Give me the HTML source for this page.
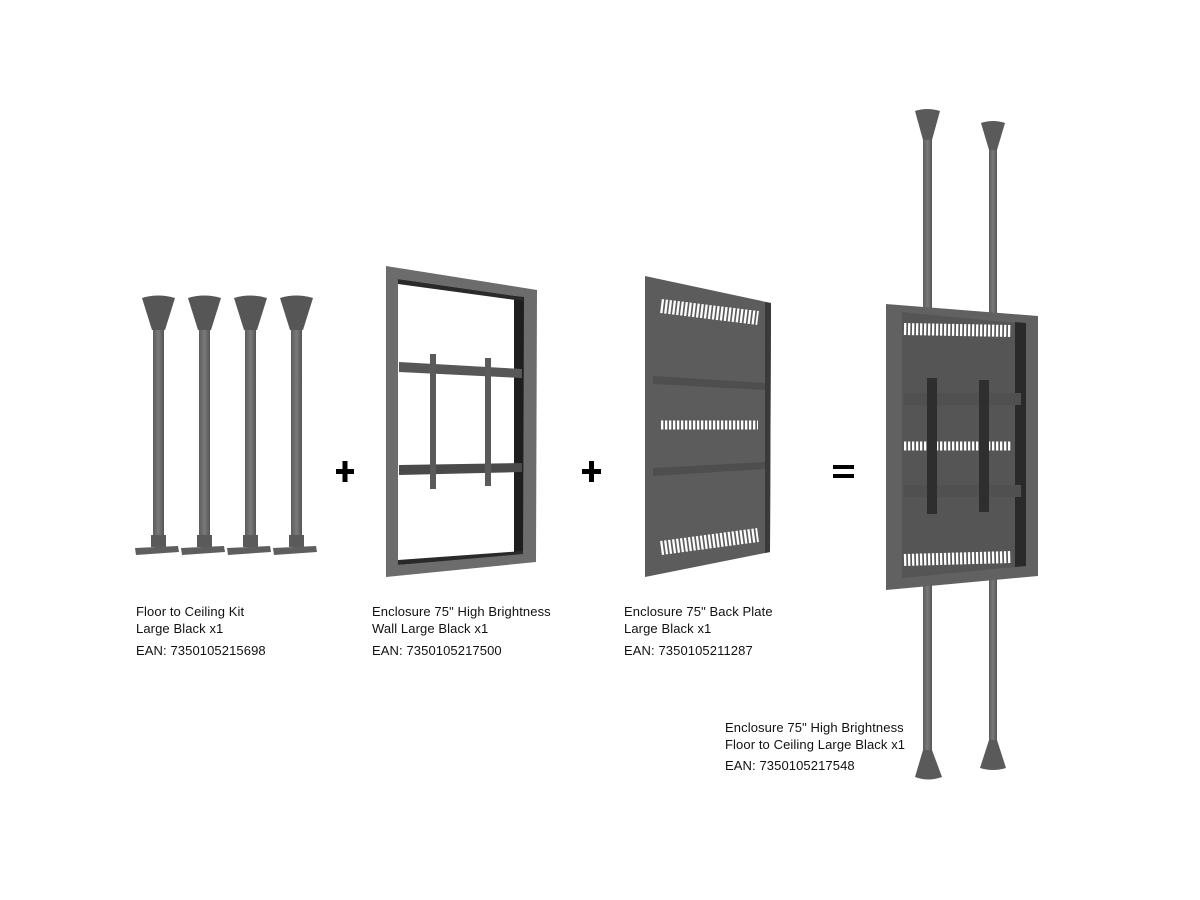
<!DOCTYPE html>
<html><head><meta charset="utf-8"><style>
html,body{margin:0;padding:0;background:#fff;width:1200px;height:900px;overflow:hidden}
svg{position:absolute;left:0;top:0}
.t{position:absolute;font-family:"Liberation Sans",sans-serif;font-size:13px;color:#111;line-height:17px;letter-spacing:0.1px}
</style></head><body>
<svg width="1200" height="900" viewBox="0 0 1200 900">
<defs>
<linearGradient id="pg" x1="0" x2="1"><stop offset="0" stop-color="#5c5c5c"/><stop offset="0.5" stop-color="#7a7a7a"/><stop offset="1" stop-color="#555"/></linearGradient>
</defs>
<!-- four poles -->
<g fill="url(#pg)">
<g id="pole">
<path d="M142,298 Q158,293 175,298 L165,330 L152,330 Z" fill="#565656"/>
<rect x="153" y="330" width="11" height="215"/>
<rect x="151" y="535" width="15" height="12" fill="#5a5a5a"/>
<path d="M135,548 L178,546 L179,552 L136,555 Z" fill="#5e5e5e"/>
</g>
<use href="#pole" x="46"/>
<use href="#pole" x="92"/>
<use href="#pole" x="138"/>
</g>
<!-- plus signs -->
<path d="M336,469h18v5h-18z M342.5,461h5v21h-5z" fill="#000"/>
<path d="M582,469h19v5h-19z M589,461h5v21h-5z" fill="#000"/>
<path d="M833,465h21v4h-21z M833,474h21v4h-21z" fill="#000"/>
<!-- wall frame -->
<path d="M386,266 L537,290 L536,562 L386,577 Z" fill="#6c6c6c"/>
<path d="M398,279 L523,297 L522,553 L398,565 Z" fill="#fff"/>
<path d="M514,296 L524,297 L523,553 L514,554 Z" fill="#1e1e1e"/>
<path d="M398,279 L523,297 L523,301 L398,284 Z" fill="#2a2a2a"/>
<path d="M398,560 L523,551 L523,554 L398,565 Z" fill="#2a2a2a"/>
<path d="M399,362 L522,369 L522,378 L399,372 Z" fill="#575757"/>
<path d="M399,465 L522,463 L522,472 L399,475 Z" fill="#4a4a4a"/>
<rect x="430" y="354" width="6" height="135" fill="#5a5a5a"/>
<rect x="485" y="358" width="6" height="128" fill="#5a5a5a"/>
<!-- back plate -->
<path d="M645,276 L771,303 L770,552 L645,577 Z" fill="#5c5c5c"/>
<path d="M765,302 L771,303 L770,552 L765,553 Z" fill="#3a3a3a"/>
<path d="M653,376 L765,383 L765,390 L653,384 Z" fill="#4e4e4e"/>
<path d="M653,468 L765,462 L765,469 L653,476 Z" fill="#4e4e4e"/>
<path d="M661,306 L758,318" stroke="#fff" stroke-width="14" stroke-dasharray="2.3,1.7" fill="none"/>
<path d="M661,425 L758,425" stroke="#fff" stroke-width="9" stroke-dasharray="2.3,1.7" fill="none"/>
<path d="M661,548 L758,535" stroke="#fff" stroke-width="14" stroke-dasharray="2.3,1.7" fill="none"/>
<!-- assembled poles -->
<path d="M915,111 Q927,107 940,111 L932,140 L923,140 Z" fill="#5a5a5a"/>
<rect x="923" y="140" width="9" height="620" fill="url(#pg)"/>
<path d="M923,750 L932,750 L942,777 Q928,782 915,777 Z" fill="#5a5a5a"/>
<path d="M981,123 Q993,119 1005,123 L997,150 L989,150 Z" fill="#5a5a5a"/>
<rect x="989" y="150" width="8" height="595" fill="url(#pg)"/>
<path d="M989,740 L997,740 L1006,768 Q993,772 980,768 Z" fill="#5a5a5a"/>
<!-- enclosure -->
<path d="M886,304 L1038,316 L1038,576 L886,590 Z" fill="#616161"/>
<path d="M902,312 L1025,324 L1025,566 L902,578 Z" fill="#555"/>
<path d="M1015,322 L1026,323 L1026,566 L1015,567 Z" fill="#2a2a2a"/>
<path d="M904,329 L1012,331" stroke="#fff" stroke-width="12" stroke-dasharray="2.3,1.7" fill="none"/>
<path d="M904,446 L1012,446" stroke="#fff" stroke-width="9" stroke-dasharray="2.3,1.7" fill="none"/>
<path d="M904,560 L1012,557" stroke="#fff" stroke-width="12" stroke-dasharray="2.3,1.7" fill="none"/>
<rect x="904" y="393" width="117" height="12" fill="#505050"/>
<rect x="904" y="485" width="117" height="12" fill="#505050"/>
<rect x="927" y="378" width="10" height="136" fill="#2e2e2e"/>
<rect x="979" y="380" width="10" height="132" fill="#2e2e2e"/>
</svg>
<div class="t" style="left:136px;top:603px">Floor to Ceiling Kit<br>Large Black x1</div>
<div class="t" style="left:136px;top:642px">EAN: 7350105215698</div>
<div class="t" style="left:372px;top:603px">Enclosure 75" High Brightness<br>Wall Large Black x1</div>
<div class="t" style="left:372px;top:642px">EAN: 7350105217500</div>
<div class="t" style="left:624px;top:603px">Enclosure 75" Back Plate<br>Large Black x1</div>
<div class="t" style="left:624px;top:642px">EAN: 7350105211287</div>
<div class="t" style="left:725px;top:719px">Enclosure 75" High Brightness<br>Floor to Ceiling Large Black x1</div>
<div class="t" style="left:725px;top:757px">EAN: 7350105217548</div>
</body></html>
